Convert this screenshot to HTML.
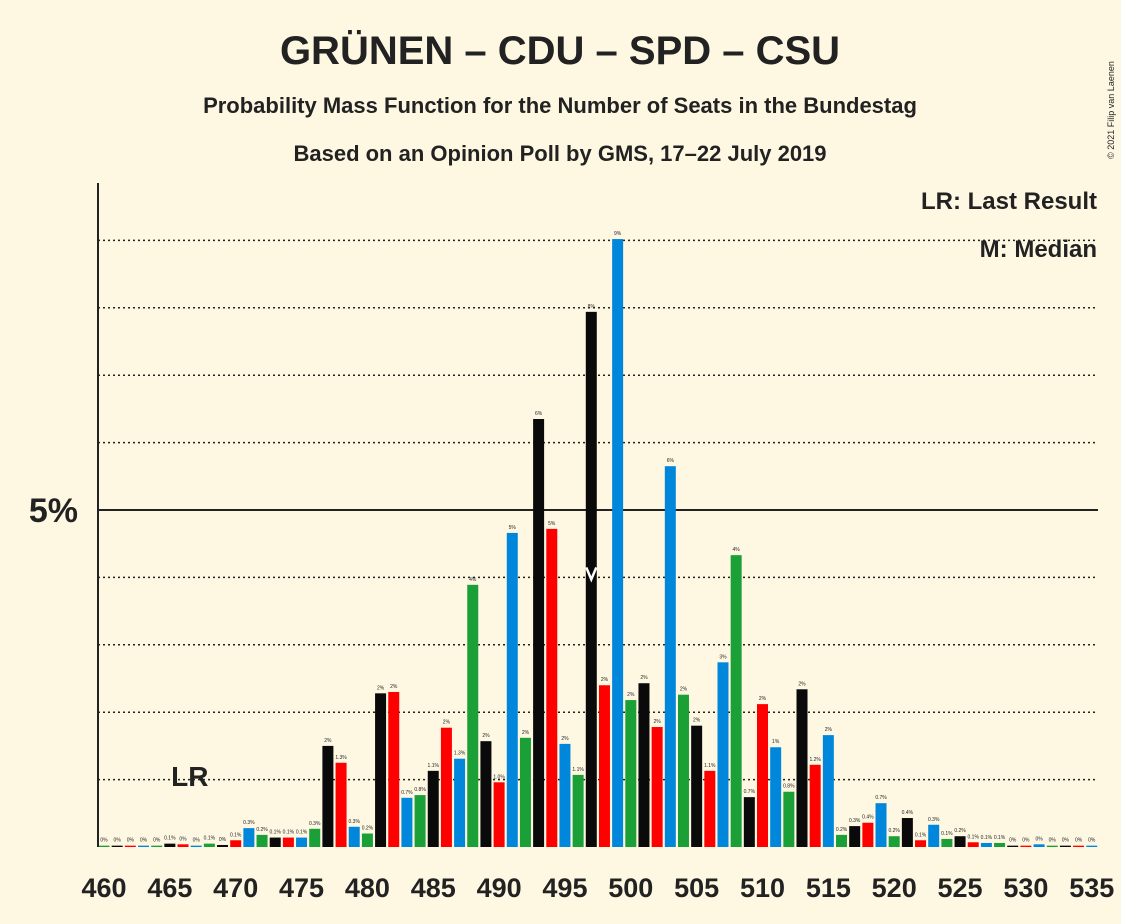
<!DOCTYPE html>
<html><head><meta charset="utf-8"><style>
body{margin:0;background:#fef8e3;}
svg{display:block;font-family:"Liberation Sans",sans-serif;}
</style></head><body>
<svg id="c" width="1121" height="924">
<rect width="1121" height="924" fill="#fef8e3"/>
<text x="560" y="64" text-anchor="middle" font-size="40" font-weight="bold" fill="#222">GRÜNEN – CDU – SPD – CSU</text>
<text x="560" y="113" text-anchor="middle" font-size="22" font-weight="bold" fill="#222">Probability Mass Function for the Number of Seats in the Bundestag</text>
<text x="560" y="161" text-anchor="middle" font-size="22" font-weight="bold" fill="#222">Based on an Opinion Poll by GMS, 17–22 July 2019</text>
<text x="1097" y="209" text-anchor="end" font-size="24" font-weight="bold" fill="#222">LR: Last Result</text>
<text x="1097" y="257" text-anchor="end" font-size="24" font-weight="bold" fill="#222">M: Median</text>
<text x="1114" y="110" transform="rotate(-90 1114 110)" text-anchor="middle" font-size="9" fill="#222">© 2021 Filip van Laenen</text>
<g id="grid"></g><g id="bars"></g><g id="labels"></g><g id="xt"></g>
<line x1="98" y1="183" x2="98" y2="847" stroke="#222" stroke-width="2"/>
<text x="78" y="522" text-anchor="end" font-size="34" font-weight="bold" fill="#222">5%</text>
</svg>
<script>
const seats=[];for(let s=460;s<=535;s++)seats.push(s);
const probs=[0.02,0.02,0.02,0.02,0.02,0.05,0.04,0.02,0.05,0.03,0.1,0.28,0.18,0.14,0.14,0.14,0.27,1.5,1.25,0.3,0.2,2.28,2.3,0.73,0.77,1.13,1.77,1.31,3.89,1.57,0.96,4.66,1.62,6.35,4.72,1.53,1.07,7.94,2.4,9.02,2.18,2.43,1.78,5.65,2.26,1.8,1.13,2.74,4.33,0.74,2.12,1.48,0.82,2.34,1.22,1.66,0.18,0.31,0.36,0.65,0.16,0.43,0.1,0.33,0.12,0.16,0.07,0.06,0.06,0.02,0.02,0.04,0.02,0.02,0.02,0.02];
const xTicks=[460,465,470,475,480,485,490,495,500,505,510,515,520,525,530,535];
const gridVals=[1,2,3,4,5,6,7,8,9];
const lastResult=465, median=497;
const colors=['#0a0a0a','#ff0000','#0087dc','#1aa037'];
const ns='http://www.w3.org/2000/svg';
const x=s=>104+(s-460)*13.17;
const y=v=>847-v*67.4;
function mk(t,a,p){const e=document.createElementNS(ns,t);for(const k in a)e.setAttribute(k,a[k]);document.getElementById(p).appendChild(e);return e;}
gridVals.forEach(v=>{
 const l=mk('line',{x1:98,x2:1098,y1:y(v),y2:y(v),stroke:'#222','stroke-width':v==5?2:1.5,'stroke-dasharray':v==5?'':'2,3'},'grid');
 
 
});
seats.forEach((s,i)=>{
 const v=probs[i];
 const r=mk('rect',{x:x(s)-5.5,y:y(v),width:11,height:v*67.4,fill:colors[(s-461+400)%4]},'bars');
 
 
 const lab=v<0.05?'0%':(v<1.4?v.toFixed(1)+'%':Math.round(v)+'%');
 const t=mk('text',{x:x(s),y:y(v)-4,'text-anchor':'middle','font-size':5,fill:'#222'},'labels');
 t.textContent=lab;
 
 
});
xTicks.forEach(s=>{
 const t=mk('text',{x:x(s),y:897,'text-anchor':'middle','font-size':27,'font-weight':'bold',fill:'#222'},'xt');
 t.textContent=s;
 
 
});
const lr=mk('text',{x:x(lastResult)+20,y:786,'text-anchor':'middle','font-size':28,'font-weight':'bold',fill:'#222'},'labels');
lr.textContent='LR';


const mi=probs[seats.indexOf(median)];
const mx=x(median);
const m=mk('polyline',{points:`${mx-5},${y(mi/2)-12} ${mx},${y(mi/2)} ${mx+5},${y(mi/2)-12}`,fill:'none',stroke:'#fff','stroke-width':2.5},'labels');


</script>
</body></html>
